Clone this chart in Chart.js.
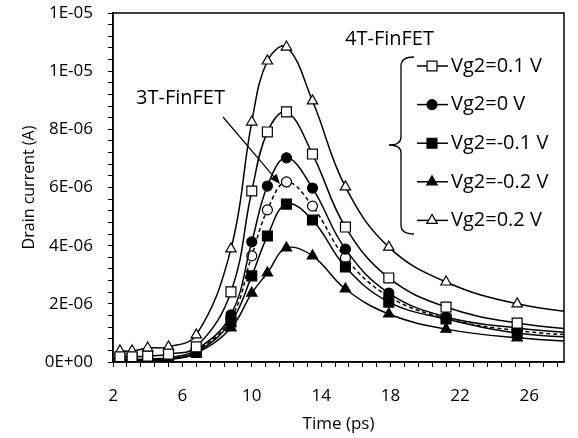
<!DOCTYPE html>
<html>
<head>
<meta charset="utf-8">
<script src="https://cdn.jsdelivr.net/npm/chart.js@4.4.1/dist/chart.umd.min.js"></script>
<style>
  html, body { margin: 0; padding: 0; background: #fff; }
</style>
</head>
<body>
<canvas id="drainChart" width="578" height="438"></canvas>
<script>
// Time axis samples (ps); the last one lies past the axis end so the curves run to the frame
const timePs = [2.4, 3.1, 4.0, 5.2, 6.8, 8.8, 10.0, 10.9, 12.0, 13.5, 15.4, 17.9, 21.2, 25.3, 30];

// Drain current, in µA (converted to A when the chart is built)
const vg2Pos01 = [0.18, 0.18, 0.2, 0.27, 0.52, 2.41, 5.88, 7.91, 8.6, 7.15, 4.64, 2.89, 1.89, 1.34, 1.05];
const vg2Zero  = [0.08, 0.08, 0.1, 0.15, 0.42, 1.62, 4.13, 6.05, 7.02, 5.98, 3.88, 2.37, 1.55, 1.17, 0.93];
const vg2Neg01 = [0.05, 0.05, 0.07, 0.1, 0.33, 1.38, 2.96, 4.33, 5.43, 4.88, 3.27, 2.06, 1.48, 1.0, 0.8];
const vg2Neg02 = [0.03, 0.03, 0.05, 0.08, 0.3, 1.17, 2.37, 3.06, 3.92, 3.65, 2.51, 1.65, 1.13, 0.83, 0.66];
const vg2Pos02 = [0.38, 0.38, 0.48, 0.52, 0.93, 3.89, 8.25, 10.35, 10.83, 8.98, 6.02, 3.95, 2.75, 2.0, 1.6];
const fet3T    = [0.06, 0.06, 0.08, 0.12, 0.38, 1.5, 3.65, 5.23, 6.19, 5.36, 3.58, 2.25, 1.5, 1.08, 0.87];

const seriesLabels = ["Vg2=0.1 V", "Vg2=0 V", "Vg2=-0.1 V", "Vg2=-0.2 V", "Vg2=0.2 V", "3T-FinFET"];

// Tick labels
const xTickLabels = [2, 6, 10, 14, 18, 22, 26];
const yTickValues = [0, 2e-6, 4e-6, 6e-6, 8e-6, 1e-5, 1.2e-5];
const yTickLabels = ["0E+00", "2E-06", "4E-06", "6E-06", "8E-06", "1E-05", "1E-05"];

const FONT = '"Open Sans", sans-serif';

function toPoints(vals) {
    return vals.map((v, i) => ({ x: timePs[i], y: v * 1e-6 }));
}

function makeSet(label, vals, style, filled, radius, dashed) {
    return {
        label,
        data: toPoints(vals),
        borderColor: "#000",
        borderWidth: 1.5,
        borderDash: dashed ? [4, 3] : [],
        tension: 0.4,
        pointStyle: style,
        pointRadius: radius,
        pointBorderWidth: 1.2,
        pointBorderColor: "#000",
        pointBackgroundColor: filled ? "#000" : "#fff",
        fill: false
    };
}

// draws frame, legend, brace, arrow and the two labels
const annotate = {
    id: "annotate",
    afterDatasetsDraw(chart) {
        const { ctx, chartArea: a } = chart;
        ctx.save();
        ctx.strokeStyle = "#000";
        ctx.fillStyle = "#000";
        ctx.lineWidth = 1.5;
        ctx.setLineDash([]);
        ctx.strokeRect(a.left, a.top, a.right - a.left, a.bottom - a.top);

        ctx.font = "20px " + FONT;
        ctx.textBaseline = "middle";
        ctx.textAlign = "left";
        ctx.fillText("4T-FinFET", 345, 39);
        ctx.fillText(seriesLabels[5], 136, 98);

        // arrow to the 3T curve
        const x0 = 223, y0 = 117, x1 = 280, y1 = 184;
        const ang = Math.atan2(y1 - y0, x1 - x0);
        ctx.lineWidth = 1.2;
        ctx.beginPath();
        ctx.moveTo(x0, y0);
        ctx.lineTo(x1 - 8 * Math.cos(ang), y1 - 8 * Math.sin(ang));
        ctx.stroke();
        ctx.beginPath();
        ctx.moveTo(x1, y1);
        ctx.lineTo(x1 - 10 * Math.cos(ang) + 4 * Math.sin(ang), y1 - 10 * Math.sin(ang) - 4 * Math.cos(ang));
        ctx.lineTo(x1 - 10 * Math.cos(ang) - 4 * Math.sin(ang), y1 - 10 * Math.sin(ang) + 4 * Math.cos(ang));
        ctx.closePath();
        ctx.fill();

        // brace
        ctx.lineWidth = 1.3;
        ctx.beginPath();
        ctx.moveTo(414, 57);
        ctx.quadraticCurveTo(401, 57, 401, 66);
        ctx.lineTo(401, 137);
        ctx.quadraticCurveTo(401, 145, 389, 145);
        ctx.quadraticCurveTo(401, 145, 401, 153);
        ctx.lineTo(401, 225);
        ctx.quadraticCurveTo(401, 234, 414, 234);
        ctx.stroke();

        // legend rows
        chart.data.datasets.slice(0, 5).forEach((ds, i) => {
            const y = 66 + i * 38.6;
            ctx.lineWidth = 1.5;
            ctx.beginPath();
            ctx.moveTo(417, y);
            ctx.lineTo(448, y);
            ctx.stroke();
            ctx.fillStyle = ds.pointBackgroundColor;
            ctx.strokeStyle = "#000";
            ctx.lineWidth = ds.pointBorderWidth;
            Chart.helpers.drawPoint(ctx, {
                pointStyle: ds.pointStyle, radius: ds.pointRadius, rotation: 0, borderWidth: ds.pointBorderWidth
            }, 432, y);
            ctx.fillStyle = "#000";
            ctx.fillText(ds.label, 451, y);
        });
        ctx.restore();
    }
};

const ctx = document.getElementById("drainChart").getContext("2d");
const chart = new Chart(ctx, {
    type: "line",
    data: {
        datasets: [
            makeSet(seriesLabels[0], vg2Pos01, "rect", false, 7, false),
            makeSet(seriesLabels[1], vg2Zero, "circle", true, 5, false),
            makeSet(seriesLabels[2], vg2Neg01, "rect", true, 7, false),
            makeSet(seriesLabels[3], vg2Neg02, "triangle", true, 6, false),
            makeSet(seriesLabels[4], vg2Pos02, "triangle", false, 6, false),
            makeSet(seriesLabels[5], fet3T, "circle", false, 5, true)
        ]
    },
    options: {
        responsive: false,
        animation: false,
        devicePixelRatio: 1,
        layout: { padding: { top: 13, right: 14, left: 0, bottom: 0 } },
        plugins: { legend: { display: false }, tooltip: { enabled: false } },
        scales: {
            x: {
                type: "linear",
                min: 2,
                max: 28,
                afterFit: s => { s.height = 76; s.paddingLeft = 0; s.paddingRight = 0; },
                afterBuildTicks: s => {
                    const t = [];
                    for (let k = 0; k <= 32; k++) t.push({ value: 2 + k * 0.8 });
                    s.ticks = t;
                },
                grid: { drawOnChartArea: false, tickLength: 5, color: "#000", tickWidth: 1 },
                border: { color: "#000", width: 1.5 },
                ticks: {
                    autoSkip: false,
                    maxRotation: 0,
                    padding: 19,
                    color: "#000",
                    font: { family: FONT, size: 17 },
                    callback: v => {
                        const hit = xTickLabels.find(t => Math.abs(t - v) < 1e-6);
                        return hit === undefined ? "" : String(hit);
                    }
                },
                title: {
                    display: true,
                    text: "Time (ps)",
                    color: "#000",
                    font: { family: FONT, size: 17 },
                    padding: { top: 0, bottom: 4 }
                }
            },
            y: {
                min: 0,
                max: 1.2e-5,
                afterFit: s => { s.width = 113; s.paddingTop = 0; s.paddingBottom = 0; },
                afterBuildTicks: s => {
                    const t = [];
                    for (let k = 0; k <= 30; k++) t.push({ value: k * 0.4e-6 });
                    s.ticks = t;
                },
                grid: { drawOnChartArea: false, tickLength: 5, color: "#000", tickWidth: 1 },
                border: { color: "#000", width: 1.5 },
                ticks: {
                    autoSkip: false,
                    padding: 15,
                    color: "#000",
                    font: { family: FONT, size: 17 },
                    callback: v => {
                        const idx = yTickValues.findIndex(t => Math.abs(t - v) < 1e-9);
                        return idx < 0 ? "" : yTickLabels[idx];
                    }
                },
                title: {
                    display: true,
                    text: "Drain current (A)",
                    color: "#000",
                    font: { family: FONT, size: 16 },
                    padding: { top: 20, bottom: 0 }
                }
            }
        }
    },
    plugins: [annotate]
});
</script>
</body>
</html>
